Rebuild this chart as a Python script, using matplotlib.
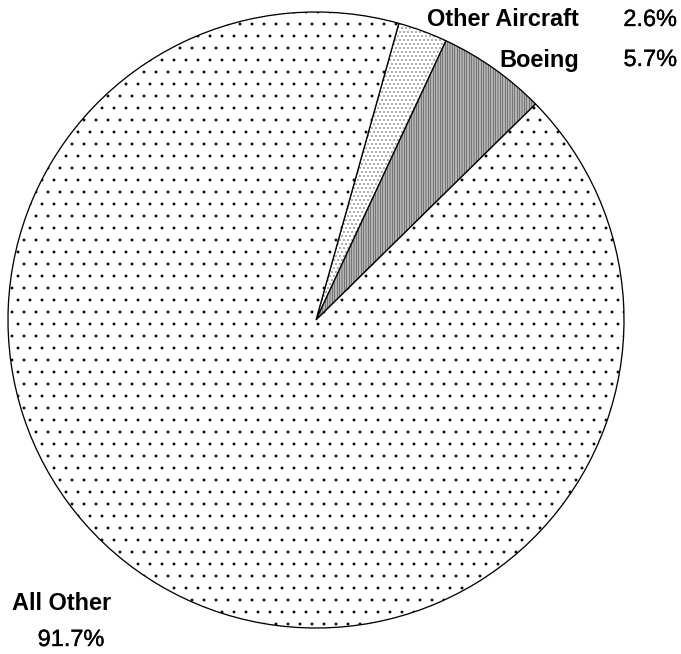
import matplotlib
matplotlib.use("Agg")
import matplotlib.pyplot as plt
import matplotlib.patheffects as pe

labels = ["Other Aircraft", "Boeing", "All Other"]
values = [2.6, 5.7, 91.7]
pct_labels = ["2.6%", "5.7%", "91.7%"]
hatches = ["...", "|||||", "."]
faces = ["white", "#b4b4b4", "white"]

plt.rcParams['font.family'] = ['Liberation Sans', 'DejaVu Sans']
plt.rcParams['hatch.linewidth'] = 0.35

W, H, DPI = 681, 654, 72
fig = plt.figure(figsize=(W / DPI, H / DPI), dpi=DPI)
ax = fig.add_axes([0, 0, 1, 1])

wedges, _ = ax.pie(values, center=(316, H - 320), radius=308,
                   startangle=74.4, counterclock=False,
                   colors=faces, frame=True,
                   wedgeprops=dict(edgecolor='black', linewidth=1.3))
ax.set_xlim(0, W)
ax.set_ylim(0, H)
ax.set_aspect('equal')
ax.axis('off')
for w, h in zip(wedges, hatches):
    w.set_hatch(h)

fs = 23.5
med = [pe.withStroke(linewidth=0.35, foreground='black')]
ax.text(579, H - 20, labels[0], ha='right', va='center', fontsize=fs, fontweight='bold')
ax.text(677, H - 20, pct_labels[0], ha='right', va='center', fontsize=fs, path_effects=med)
ax.text(579, H - 60, labels[1], ha='right', va='center', fontsize=fs, fontweight='bold')
ax.text(677, H - 60, pct_labels[1], ha='right', va='center', fontsize=fs, path_effects=med)
ax.text(12, H - 604, labels[2], ha='left', va='center', fontsize=fs, fontweight='bold')
ax.text(71, H - 640, pct_labels[2], ha='center', va='center', fontsize=fs, path_effects=med)

fig.savefig("out.png", dpi=DPI, facecolor='white')
